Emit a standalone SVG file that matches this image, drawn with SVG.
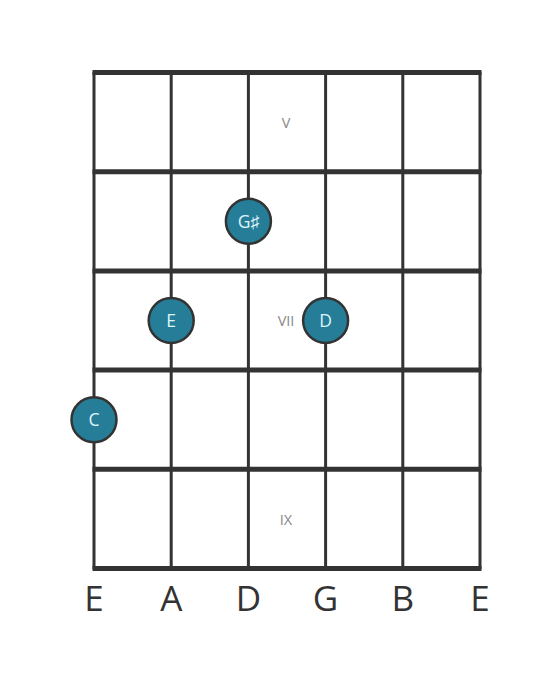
<svg xmlns="http://www.w3.org/2000/svg" width="560" height="682" viewBox="0 0 560 682">
<style>
.fret{stroke:#333;stroke-width:5;}
.str{stroke:#333;stroke-width:3;}
.dot{fill:#267d98;stroke:#333;stroke-width:2.5;}
.dl{fill:#dff4fa;font-family:"Open Sans",sans-serif;font-size:17.5px;text-anchor:middle;}
.rn{fill:#888;font-family:"Open Sans",sans-serif;font-size:14.5px;text-anchor:middle;}
.sl{fill:#333;font-family:"Open Sans",sans-serif;font-size:35px;text-anchor:middle;}
</style>
<rect width="560" height="682" fill="#fff"/>
<g id="grid">
<line class="str" x1="94" y1="72" x2="94" y2="569"/>
<line class="str" x1="171.2" y1="72" x2="171.2" y2="569"/>
<line class="str" x1="248.4" y1="72" x2="248.4" y2="569"/>
<line class="str" x1="325.6" y1="72" x2="325.6" y2="569"/>
<line class="str" x1="402.8" y1="72" x2="402.8" y2="569"/>
<line class="str" x1="480" y1="72" x2="480" y2="569"/>
<line class="fret" x1="92.5" y1="72.5" x2="481.5" y2="72.5"/>
<line class="fret" x1="92.5" y1="171.7" x2="481.5" y2="171.7"/>
<line class="fret" x1="92.5" y1="270.9" x2="481.5" y2="270.9"/>
<line class="fret" x1="92.5" y1="370.1" x2="481.5" y2="370.1"/>
<line class="fret" x1="92.5" y1="469.3" x2="481.5" y2="469.3"/>
<line class="fret" x1="92.5" y1="568.5" x2="481.5" y2="568.5"/>
</g>
<g id="frets">
<text class="rn" x="286" y="128">V</text>
<text class="rn" x="286" y="326">VII</text>
<text class="rn" x="286" y="525">IX</text>
</g>
<g id="note-gs"><circle class="dot" cx="248.4" cy="221.3" r="22.5"/><text class="dl" x="248.4" y="227.5">G♯</text></g>
<g id="note-e"><circle class="dot" cx="171.2" cy="320.5" r="22.5"/><text class="dl" x="171.2" y="326.7">E</text></g>
<g id="note-d"><circle class="dot" cx="325.6" cy="320.5" r="22.5"/><text class="dl" x="325.6" y="326.7">D</text></g>
<g id="note-c"><circle class="dot" cx="94" cy="419.7" r="22.5"/><text class="dl" x="94" y="425.9">C</text></g>
<g id="strings">
<text class="sl" x="94" y="611">E</text>
<text class="sl" x="171.2" y="611">A</text>
<text class="sl" x="248.4" y="611">D</text>
<text class="sl" x="325.6" y="611">G</text>
<text class="sl" x="402.8" y="611">B</text>
<text class="sl" x="480" y="611">E</text>
</g>
</svg>
